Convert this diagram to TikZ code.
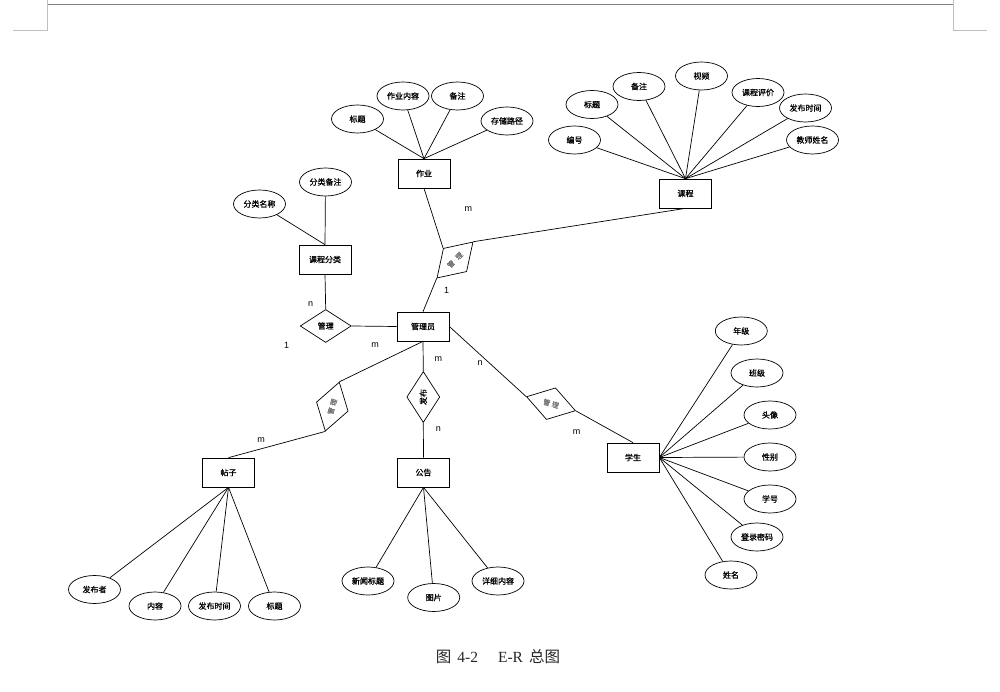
\documentclass[tikz,border=0pt]{standalone}
\usepackage{fontspec}
\setmainfont{Liberation Sans}
\newfontfamily\cjk[FakeBold=1]{Noto Sans CJK SC}
\newfontfamily\cjkcap{Noto Sans CJK SC}
\newfontfamily\capserif{Liberation Serif}
\usetikzlibrary{shapes.geometric}
\begin{document}
\begin{tikzpicture}[x=1pt,y=-1pt, line width=0.7pt,
  ent/.style={draw, rectangle, minimum width=52pt, minimum height=29pt, inner sep=0pt, font=\cjk\fontsize{8}{9}\selectfont},
  attr/.style={draw, ellipse, minimum width=52pt, minimum height=28pt, inner sep=0pt, font=\cjk\fontsize{8}{9}\selectfont},
  rel/.style={draw, diamond, minimum width=51pt, minimum height=33pt, inner sep=0pt, font=\cjk\fontsize{8}{9}\selectfont},
  grayrel/.style={rel, text=black!55, font=\cjk\fontsize{7}{8}\selectfont},
  card/.style={font=\fontsize{9}{10}\selectfont, inner sep=0pt},
  link/.style={draw=black, line width=0.7pt},
  cropmark/.style={draw=black!25, line width=0.8pt}]

\useasboundingbox (0,0) rectangle (1000,692);

% page decoration
\draw[draw=black!50, line width=1pt] (47,5) -- (953,5);
\draw[cropmark] (47,0) -- (47,30) -- (13,30);
\draw[cropmark] (953,0) -- (953,30) -- (987,30);

% entities
\node[ent] (zy) at (424,173.5) {作业};
\node[ent] (kc) at (685.5,193.5) {课程};
\node[ent] (fl) at (325,259.5) {课程分类};
\node[ent] (gly) at (423,326.5) {管理员};
\node[ent] (tz) at (228.5,472.5) {帖子};
\node[ent] (gg) at (423.5,472.5) {公告};
\node[ent] (xs) at (633,457.5) {学生};

% 作业 attributes
\node[attr] (zy1) at (357.5,119) {标题};
\node[attr] (zy2) at (403,96) {作业内容};
\node[attr] (zy3) at (457.5,96) {备注};
\node[attr] (zy4) at (507,121) {存储路径};
\foreach \a in {zy1,zy2,zy3,zy4} \draw[link] (zy.north) -- (\a);

% 课程 attributes
\node[attr] (kc1) at (574.5,140) {编号};
\node[attr] (kc2) at (592,104.5) {标题};
\node[attr] (kc3) at (639,86.5) {备注};
\node[attr] (kc4) at (701.5,76) {视频};
\node[attr] (kc5) at (758,92.5) {课程评价};
\node[attr] (kc6) at (805.5,108) {发布时间};
\node[attr] (kc7) at (812.5,140) {教师姓名};
\foreach \a in {kc1,kc2,kc3,kc4,kc5,kc6,kc7} \draw[link] (kc.north) -- (\a);

% 课程分类 attributes
\node[attr] (fl1) at (325.5,182) {分类备注};
\node[attr] (fl2) at (259.5,204) {分类名称};
\foreach \a in {fl1,fl2} \draw[link] (fl.north) -- (\a);

% 学生 attributes
\node[attr] (xs1) at (741.3,331) {年级};
\node[attr] (xs2) at (757,373) {班级};
\node[attr] (xs3) at (770,415) {头像};
\node[attr] (xs4) at (770,457) {性别};
\node[attr] (xs5) at (770,499) {学号};
\node[attr] (xs6) at (757,537) {登录密码};
\node[attr] (xs7) at (731,575) {姓名};
\foreach \a in {xs1,xs2,xs3,xs4,xs5,xs6,xs7} \draw[link] (xs.east) -- (\a);

% 帖子 attributes
\node[attr] (tz1) at (94.5,589.5) {发布者};
\node[attr] (tz2) at (155,606) {内容};
\node[attr] (tz3) at (214.5,606) {发布时间};
\node[attr] (tz4) at (274.5,606) {标题};
\foreach \a in {tz1,tz2,tz3,tz4} \draw[link] (tz.south) -- (\a);

% 公告 attributes
\node[attr] (gg1) at (368,581) {新闻标题};
\node[attr] (gg2) at (433.7,597.5) {图片};
\node[attr] (gg3) at (498,581) {详细内容};
\foreach \a in {gg1,gg2,gg3} \draw[link] (gg.south) -- (\a);

% relationships
\node[rel] (r1) at (325.7,326) {管理};
\node[grayrel, rotate=45] (r2) at (455,260) {管\hspace{4.5pt}理};
\node[grayrel, rotate=74] (r3) at (332.3,406.6) {管\hspace{2pt}理};
\node[rel, rotate=90] (r4) at (423.3,397) {发布};
\node[grayrel, rotate=-16] (r5) at (551,403.7) {管\hspace{2pt}理};

\draw[link] (fl.south) -- (r1.north);
\draw[link] (r1.east) -- (gly.west);
\draw[link] (zy.south) -- (r2.north);
\draw[link] (kc.south) -- (r2.east);
\draw[link] (r2.west) -- (gly.north);
\draw[link] (gly.south) -- (r3.east);
\draw[link] (r3.west) -- (tz.north);
\draw[link] (gly.south) -- (r4.east);
\draw[link] (r4.west) -- (gg.north);
\draw[link] (gly.east) -- (r5.west);
\draw[link] (r5.east) -- (xs.north);

% cardinalities
\node[card] (c1) at (310.7,304) {n};
\node[card] (c2) at (286.7,345) {1};
\node[card] (c3) at (375,345) {m};
\node[card] (c4) at (468.3,209) {m};
\node[card] (c5) at (446.7,290) {1};
\node[card] (c6) at (438.3,359) {m};
\node[card] (c7) at (438.3,429.3) {n};
\node[card] (c8) at (480,363.3) {n};
\node[card] (c9) at (576.7,431.7) {m};
\node[card] (c10) at (261,440) {m};

% caption
\node[font=\fontsize{15.5}{17}\selectfont, text=black!85, inner sep=0pt] (cap) at (498,657)
  {{\cjkcap 图}\hspace{6pt}{\capserif 4-2}\hspace{20pt}{\capserif E-R}\hspace{6pt}{\cjkcap 总图}};
\end{tikzpicture}
\end{document}
